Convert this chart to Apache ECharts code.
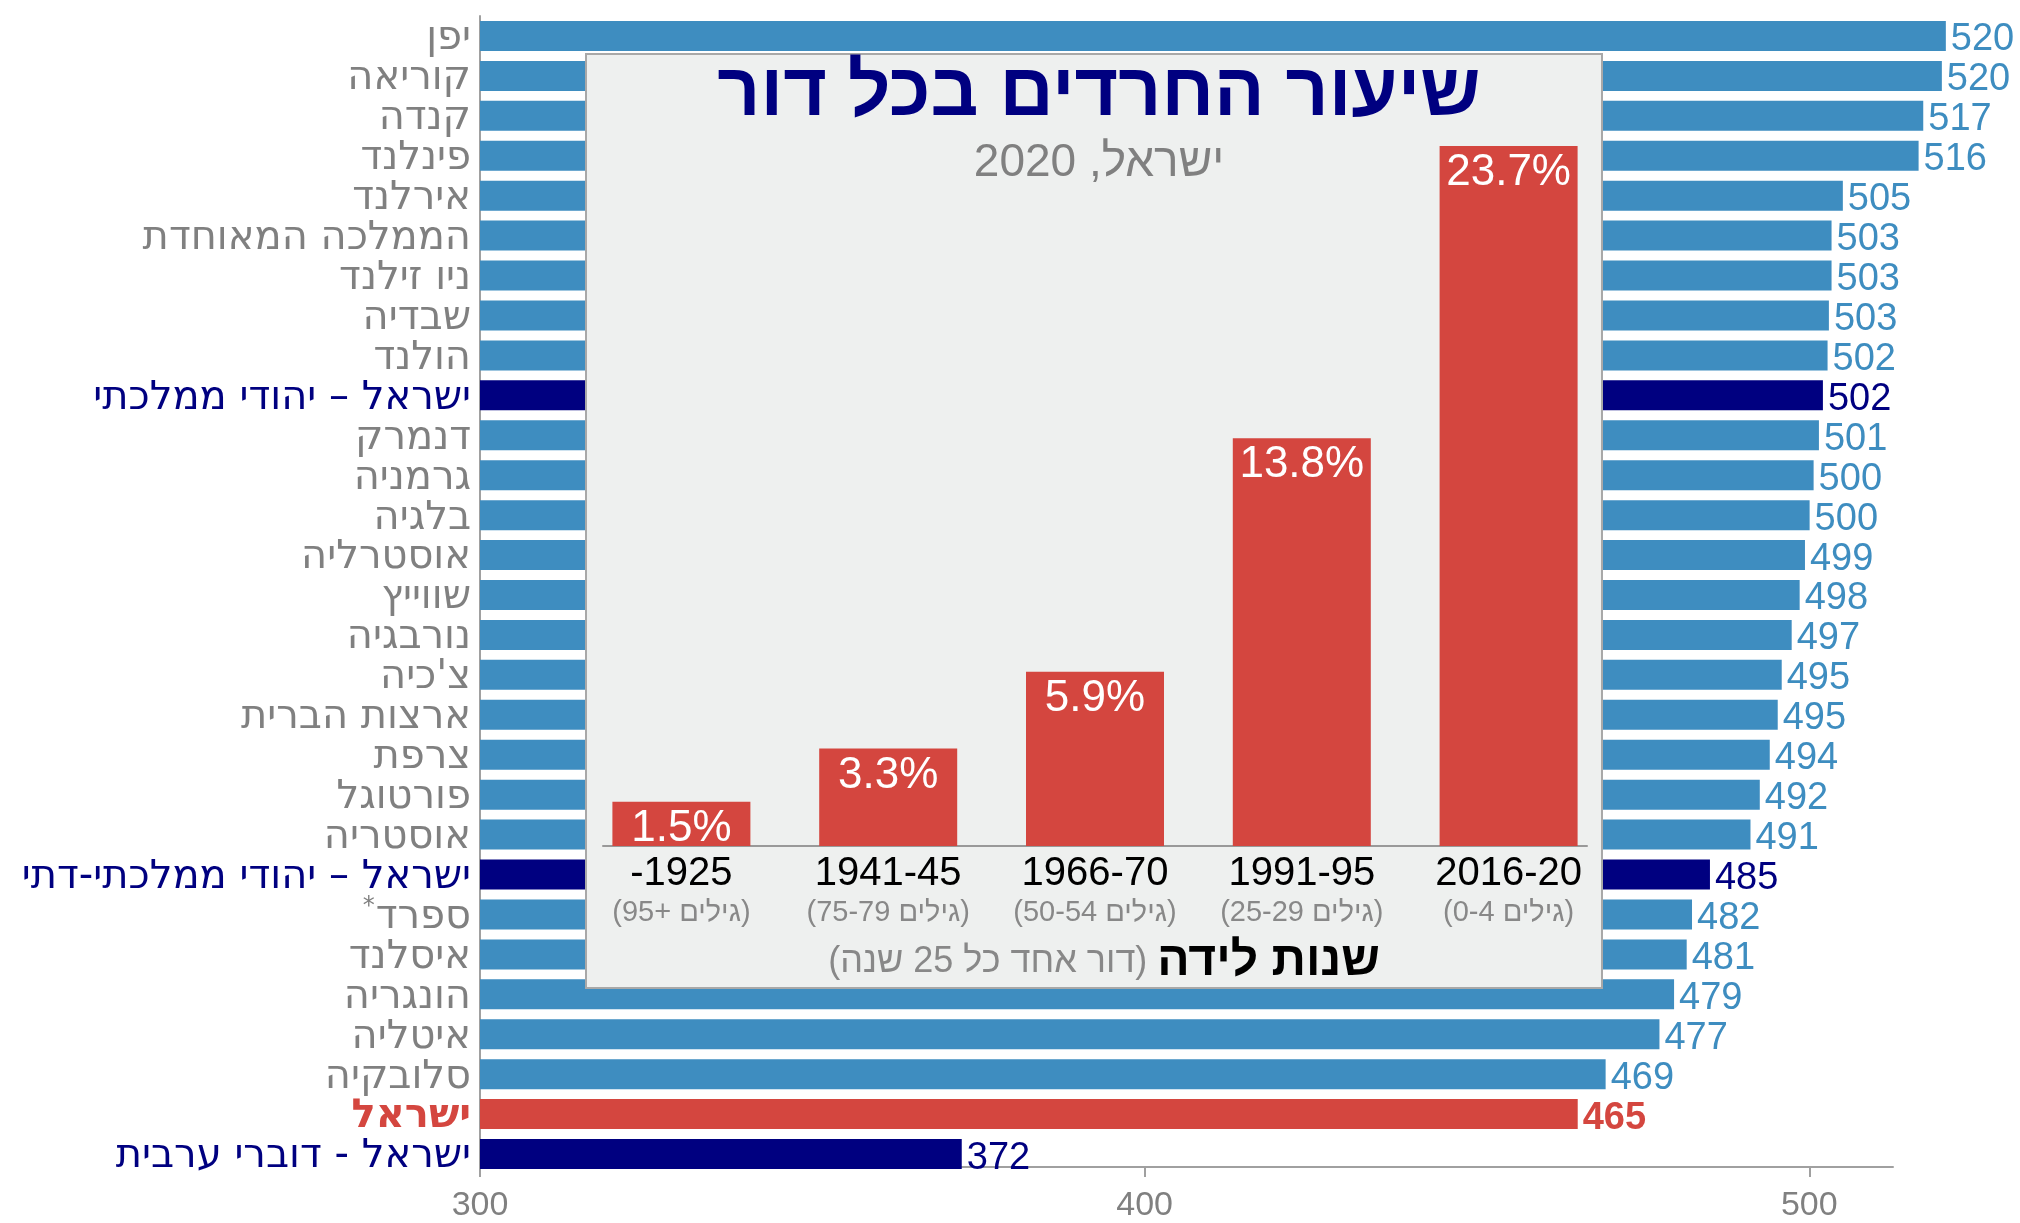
<!DOCTYPE html>
<html>
<head>
<meta charset="utf-8">
<script src="https://cdn.jsdelivr.net/npm/echarts@6.0.0/dist/echarts.min.js"></script>
<style>
html, body { margin: 0; padding: 0; background: #fff; }
#chart { width: 2020px; height: 1223px; }
</style>
</head>
<body>
<div id="chart"></div>
<script>
// reading scores, top to bottom
const countries = [
  'יפן', 'קוריאה', 'קנדה', 'פינלנד', 'אירלנד', 'הממלכה המאוחדת', 'ניו זילנד',
  'שבדיה', 'הולנד', 'ישראל – יהודי ממלכתי', 'דנמרק', 'גרמניה', 'בלגיה',
  'אוסטרליה', 'שווייץ', 'נורבגיה', "צ'כיה", 'ארצות הברית', 'צרפת', 'פורטוגל',
  'אוסטריה', 'ישראל – יהודי ממלכתי-דתי', 'ספרד*', 'איסלנד', 'הונגריה',
  'איטליה', 'סלובקיה', 'ישראל', 'ישראל - דוברי ערבית'
];
const scores = [
  520.6, 520.0, 517.2, 516.5, 505.1, 503.4, 503.4, 503.0, 502.8, 502.1, 501.5,
  500.7, 500.1, 499.4, 498.6, 497.4, 495.9, 495.3, 494.1, 492.6, 491.2, 485.1,
  482.4, 481.6, 479.7, 477.5, 469.4, 465.2, 372.5
];
const scoreTicks = [300, 400, 500];

// haredi share by birth cohort (inset)
const cohortYears = ['-1925', '1941-45', '1966-70', '1991-95', '2016-20'];
const cohortAges = ['(95+ גילים)', '(75-79 גילים)', '(50-54 גילים)', '(25-29 גילים)', '(0-4 גילים)'];
const harediShare = [1.5, 3.3, 5.9, 13.8, 23.7];

const BLUE = '#3E8DC0', NAVY = '#000080', RED = '#D4463F', GRAY = '#808080';
const FONT = 'Liberation Sans';
const LABEL_FONT = 'DejaVu Sans';

function kind(name) {
  if (name === 'ישראל') return 'r';
  if (name.indexOf('ישראל') === 0) return 'n';
  return 'g';
}
const barColor = { g: BLUE, n: NAVY, r: RED };

const chart = echarts.init(document.getElementById('chart'));

const mainData = scores.map(function (v, i) {
  const k = kind(countries[i]);
  return {
    value: v,
    itemStyle: { color: barColor[k] },
    label: { color: barColor[k], fontWeight: k === 'r' ? 'bold' : 'normal' }
  };
});

const option = {
  animation: false,
  backgroundColor: '#fff',
  title: [
    {
      text: 'שיעור החרדים בכל דור',
      left: 1094, top: 52, textAlign: 'center', z: 8,
      textStyle: { color: NAVY, fontSize: 75, fontWeight: 'bold', fontFamily: FONT }
    },
    {
      text: 'ישראל, 2020',
      left: 1094, top: 135, textAlign: 'center', z: 8,
      textStyle: { color: GRAY, fontSize: 46, fontWeight: 'normal', fontFamily: FONT }
    }
  ],
  graphic: {
    elements: [{
      type: 'rect', z: 5,
      shape: { x: 586, y: 54, width: 1016, height: 934 },
      style: { fill: '#EEF0EF', stroke: '#A8A8A8', lineWidth: 2 }
    }]
  },
  grid: [
    { left: 480, top: 16, width: 1468.5, height: 1158 },
    { left: 480, top: 16, width: 1413, height: 1158 },
    { left: 578, top: 107.5, width: 1034, height: 738.5 },
    { left: 603, top: 107.5, width: 984, height: 738.5 }
  ],
  xAxis: [
    { gridIndex: 0, type: 'value', min: 300, max: 521, show: false },
    {
      gridIndex: 1, type: 'value', min: 300, max: 512.6,
      axisLine: { show: true, lineStyle: { color: '#A0A0A0', width: 2 } },
      axisTick: { show: true, length: 10, customValues: scoreTicks, lineStyle: { color: '#A0A0A0', width: 2 } },
      axisLabel: { customValues: scoreTicks, color: GRAY, fontSize: 34, margin: 22, fontFamily: FONT },
      splitLine: { show: false }
    },
    {
      gridIndex: 2, type: 'category', data: cohortYears, z: 6,
      axisLine: { show: false }, axisTick: { show: false },
      axisLabel: {
        interval: 0, margin: 6,
        formatter: function (v, i) { return '{a|' + v + '}\n{b|' + cohortAges[i] + '}'; },
        rich: {
          a: { fontSize: 40, color: '#000', lineHeight: 44, fontFamily: FONT },
          b: { fontSize: 29, color: '#888', lineHeight: 34, fontFamily: FONT }
        }
      },
      name: '{g|(דור אחד כל 25 שנה) }{b|שנות לידה}',
      nameLocation: 'middle', nameGap: 92,
      nameTextStyle: {
        rich: {
          g: { fontSize: 36, color: '#888', fontFamily: FONT, padding: [0, 0, 0, 18] },
          b: { fontSize: 48, color: '#000', fontWeight: 'bold', fontFamily: FONT }
        }
      }
    },
    {
      gridIndex: 3, type: 'value', min: 0, max: 1, z: 6,
      axisLine: { show: true, lineStyle: { color: '#999', width: 2 } },
      axisTick: { show: false }, axisLabel: { show: false }, splitLine: { show: false }
    }
  ],
  yAxis: [
    {
      gridIndex: 0, type: 'category', data: countries, inverse: true,
      axisLine: { show: true, lineStyle: { color: '#A0A0A0', width: 2 } },
      axisTick: { show: false },
      axisLabel: {
        interval: 0, margin: 9,
        formatter: function (name) {
          if (name === 'ספרד*') return '{s|*}{g|ספרד}';
          return '{' + kind(name) + '|' + name + '}';
        },
        rich: {
          g: { color: GRAY, fontSize: 40, fontFamily: LABEL_FONT, padding: [6, 0, 0, 0] },
          n: { color: NAVY, fontSize: 40, fontFamily: LABEL_FONT, padding: [6, 0, 0, 0] },
          r: { color: RED, fontSize: 40, fontWeight: 'bold', fontFamily: LABEL_FONT, padding: [6, 0, 0, 0] },
          s: { color: GRAY, fontSize: 24, padding: [0, 1, 16, 0], fontFamily: LABEL_FONT }
        }
      }
    },
    { gridIndex: 1, type: 'value', show: false },
    { gridIndex: 2, type: 'value', min: 0, max: 25, show: false },
    { gridIndex: 3, type: 'value', show: false }
  ],
  series: [
    {
      type: 'bar', xAxisIndex: 0, yAxisIndex: 0, barWidth: 30, z: 2,
      data: mainData,
      label: {
        show: true, position: 'right', distance: 5, offset: [0, 4], fontSize: 38,
        fontFamily: FONT,
        formatter: function (p) { return Math.floor(p.value); }
      }
    },
    {
      type: 'bar', xAxisIndex: 2, yAxisIndex: 2, barWidth: 138, z: 7,
      data: harediShare,
      itemStyle: { color: RED },
      label: {
        show: true, position: 'insideTop', distance: 5, color: '#fff', fontSize: 44,
        fontFamily: FONT,
        formatter: function (p) { return p.value.toFixed(1) + '%'; }
      }
    }
  ]
};

chart.setOption(option);
</script>
</body>
</html>
